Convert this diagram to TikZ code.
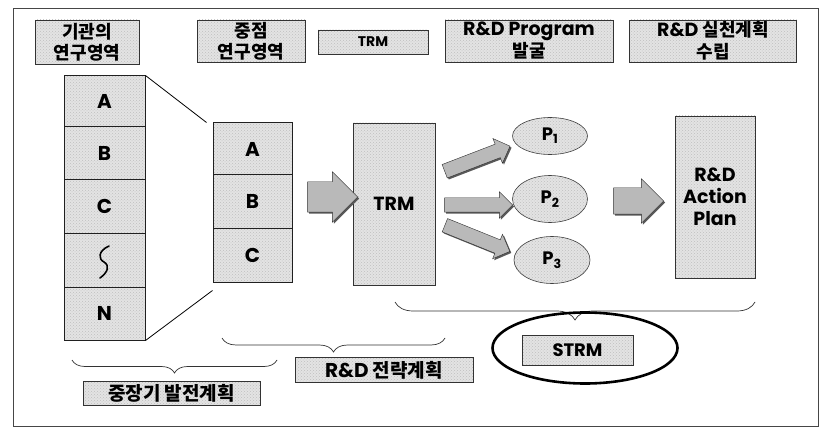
\documentclass[tikz,border=0pt]{standalone}
\usepackage{fontspec}
\setmainfont{Poppins}
\newfontfamily\kr{Noto Sans CJK KR}
\newcommand\kk[1]{{\kr\fontsize{18}{20}\selectfont #1}}
\usetikzlibrary{shapes.geometric,shapes.arrows,decorations.pathreplacing,patterns,shadows}
\tikzset{
  tex/.style={preaction={fill=gray!22}, pattern=crosshatch dots, pattern color=gray!50},
  hbox/.style={tex, draw=gray!40!black, line width=0.7pt, align=center, inner sep=0pt,
               font=\bfseries\fontsize{19}{21}\selectfont},
  cell/.style={tex, draw=gray!25!black, line width=1pt, inner sep=0pt,
               font=\bfseries\fontsize{20}{22}\selectfont},
  bigbox/.style={tex, draw=gray!40!black, line width=0.7pt, inner sep=0pt, align=center},
  pell/.style={ellipse, tex, draw=gray!50!black, line width=0.6pt, inner sep=0pt,
               font=\bfseries\fontsize{18}{20}\selectfont},
  barrow/.style={single arrow, draw=gray!35!black, fill=gray!55, inner xsep=0pt,
                 drop shadow={shadow xshift=1.5pt, shadow yshift=-1.5pt, fill=black!65, opacity=1}},
  brc/.style={decorate, draw=black!80, line width=0.7pt},
}
\begin{document}
\begin{tikzpicture}[x=1pt,y=-1pt]
\useasboundingbox (0,0) rectangle (826,438);
\fill[white] (0,0) rectangle (826,438);
\draw[gray!55!black, line width=0.8pt] (13,8) rectangle (818,426);

% header boxes
\node[hbox, minimum width=104pt, minimum height=44pt] (h1) at (87,42) {\kk{기관의}\\\kk{연구영역}};
\node[hbox, minimum width=108pt, minimum height=42pt] (h2) at (251,41) {\kk{중점}\\\kk{연구영역}};
\node[hbox, minimum width=110pt, minimum height=24pt, font=\bfseries\fontsize{14}{16}\selectfont] (h3) at (373,42) {TRM};
\node[hbox, minimum width=168pt, minimum height=42pt] (h4) at (529,41) {R\&D Program\\[1pt]\kk{발굴}};
\node[hbox, minimum width=167pt, minimum height=42pt] (h5) at (713,41) {R\&D \kk{실천계획}\\[1pt]\kk{수립}};

% left stack
\node[cell, minimum width=81pt, minimum height=51pt] (lA) at (104.5,101.5) {A};
\node[cell, minimum width=81pt, minimum height=53pt] (lB) at (104.5,153.5) {B};
\node[cell, minimum width=81pt, minimum height=53pt] (lC) at (104.5,206.5) {C};
\node[cell, minimum width=81pt, minimum height=54pt] (lS) at (104.5,260) {};
\node[cell, minimum width=81pt, minimum height=53pt] (lN) at (104.5,313.5) {N};
\draw[black, line width=1.6pt, line cap=round] (109,246) .. controls (98,251) and (98,259) .. (104,262)
  .. controls (110,266) and (108,272) .. (100,278);

% middle stack
\node[cell, minimum width=79pt, minimum height=52pt] (mA) at (252.5,149) {A};
\node[cell, minimum width=79pt, minimum height=53pt] (mB) at (252.5,201.5) {B};
\node[cell, minimum width=79pt, minimum height=54pt] (mC) at (252.5,255) {C};

\draw[black, line width=0.8pt] (lA.north east) -- ([xshift=-6pt]mA.north west);
\draw[black, line width=0.8pt] (lN.south east) -- ([yshift=-8pt]mC.south west);

% TRM box
\node[bigbox, minimum width=82pt, minimum height=162pt, font=\bfseries\fontsize{19}{21}\selectfont] (trm) at (394,204) {TRM};

% arrow stack -> TRM
\node[barrow, minimum height=50pt, inner ysep=15pt, single arrow head extend=10pt] (a0) at (325,197) {};

% P ellipses
\node[pell, minimum width=75pt, minimum height=37pt] (p1) at (550,136) {P\textsubscript{1}};
\node[pell, minimum width=75pt, minimum height=47pt] (p2) at (550,199) {P\textsubscript{2}};
\node[pell, minimum width=76pt, minimum height=47pt] (p3) at (552,260) {P\textsubscript{3}};

% arrows TRM -> P
\node[barrow, minimum height=70pt, inner ysep=7pt, single arrow head extend=6pt, rotate=21] (a1) at (474,160) {};
\node[barrow, minimum height=68pt, inner ysep=7pt, single arrow head extend=6pt] (a2) at (475,205) {};
\node[barrow, minimum height=70pt, inner ysep=7pt, single arrow head extend=6pt, rotate=-22] (a3) at (474,237) {};

% arrow -> action plan
\node[barrow, minimum height=50pt, inner ysep=13pt, single arrow head extend=9pt] (a4) at (632,201) {};

% action plan
\node[bigbox, minimum width=80pt, minimum height=162pt, font=\bfseries\fontsize{19}{22}\selectfont] (act) at (715,197) {R\&D\\Action\\Plan};

% braces
\draw[brc, decoration={brace, amplitude=13pt}] (277,360) -- (72,360);
\draw[brc, decoration={brace, amplitude=14pt}] (445,338) -- (222,338);
\draw[brc, decoration={brace, amplitude=18pt}] (755,302) -- (395,302);

% bottom boxes
\node[hbox, minimum width=177pt, minimum height=24pt] (b1) at (171.5,393.5)
  {\kr\fontsize{19}{21}\selectfont 중장기 발전계획};
\node[hbox, minimum width=178pt, minimum height=25pt, font=\bfseries\fontsize{20}{22}\selectfont] (b2) at (384,370)
  {R\&D {\kr\fontsize{19}{21}\selectfont 전략계획}};
\node[hbox, minimum width=111pt, minimum height=30pt, font=\bfseries\fontsize{18}{20}\selectfont] (b3) at (577.5,350) {STRM};
\node[ellipse, draw=black, line width=2.6pt, minimum width=185pt, minimum height=71pt, inner sep=0pt] (ring) at (585,348) {};
\end{tikzpicture}
\end{document}
